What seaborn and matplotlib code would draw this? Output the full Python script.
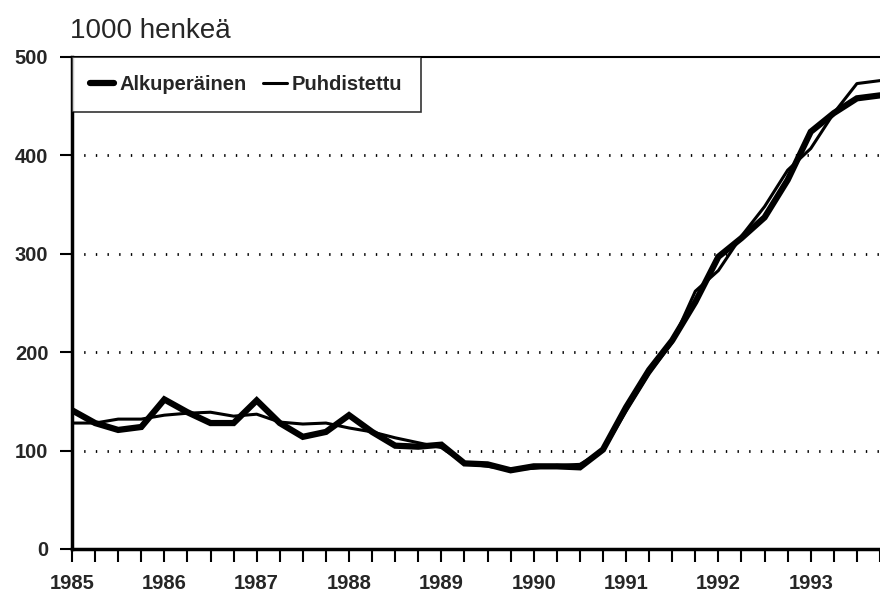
import numpy as np
import pandas as pd
import seaborn as sns
import matplotlib.pyplot as plt

# quarterly values, 1985Q1 .. 1993Q4 (1000 persons)
quarters = np.arange(1985, 1994, 0.25)
alkuperainen = [141, 128, 121, 124, 152, 139, 128, 128,
                151, 128, 114, 119, 136, 119, 105, 104,
                106, 87, 86, 80, 84, 84, 83, 101,
                144, 182, 212, 251, 297, 316, 337, 375,
                424, 443, 458, 461]
puhdistettu = [128, 128, 132, 132, 136, 138, 139, 135,
               137, 129, 127, 128, 123, 119, 113, 108,
               103, 87, 84, 81, 82, 85, 86, 100,
               140, 178, 210, 262, 283, 318, 348, 385,
               407, 443, 473, 476]
years = list(range(1985, 1994))
yticks = [0, 100, 200, 300, 400, 500]

df = pd.DataFrame({'aika': quarters, 'Alkuperäinen': alkuperainen, 'Puhdistettu': puhdistettu})

sns.set_style('white')
plt.rcParams['font.family'] = ['Liberation Sans', 'DejaVu Sans']

fig = plt.figure(figsize=(8.8, 5.94), dpi=100)
ax = fig.add_axes([72 / 880, 45 / 594, 808 / 880, 492 / 594])

sns.lineplot(data=df, x='aika', y='Alkuperäinen', ax=ax, color='black', lw=4.5,
             label='Alkuperäinen', solid_joinstyle='miter')
sns.lineplot(data=df, x='aika', y='Puhdistettu', ax=ax, color='black', lw=2.2,
             label='Puhdistettu')

ax.set_xlim(1985, 1993.68)
ax.set_ylim(0, 500)
ax.set_xlabel('')
ax.set_ylabel('')

# dotted grid lines
for v in yticks[1:-1]:
    ax.axhline(v, color='black', lw=2, ls=(0, (0.5, 3.7)), zorder=0)

ax.set_xticks(quarters)
ax.set_xticklabels([str(int(q)) if q == int(q) else '' for q in quarters],
                   fontsize=14.5, fontweight='bold')
ax.set_yticks(yticks)
ax.set_yticklabels([str(v) for v in yticks], fontsize=14.5, fontweight='bold')
ax.tick_params(axis='both', direction='out', length=9, width=1.5, color='black', bottom=True, left=True)
ax.tick_params(axis='x', pad=9)
ax.tick_params(axis='y', pad=8)

for s in ['left', 'bottom']:
    ax.spines[s].set_linewidth(2.5)
    ax.spines[s].set_color('black')
ax.spines['top'].set_linewidth(1.5)
ax.spines['top'].set_color('black')
ax.spines['right'].set_visible(False)

leg = ax.legend(loc='upper left', ncol=2, frameon=True, fancybox=False, borderaxespad=0,
                handlelength=1.2, handletextpad=0.25, columnspacing=0.8,
                prop={'size': 14.5, 'weight': 'bold'}, borderpad=0.9)
leg.get_frame().set_edgecolor('black')
leg.get_frame().set_linewidth(1.2)

fig.text(70 / 880, 1 - 31 / 594, '1000 henkeä', fontsize=20, va='center', ha='left')

fig.savefig('out.png', dpi=100)
